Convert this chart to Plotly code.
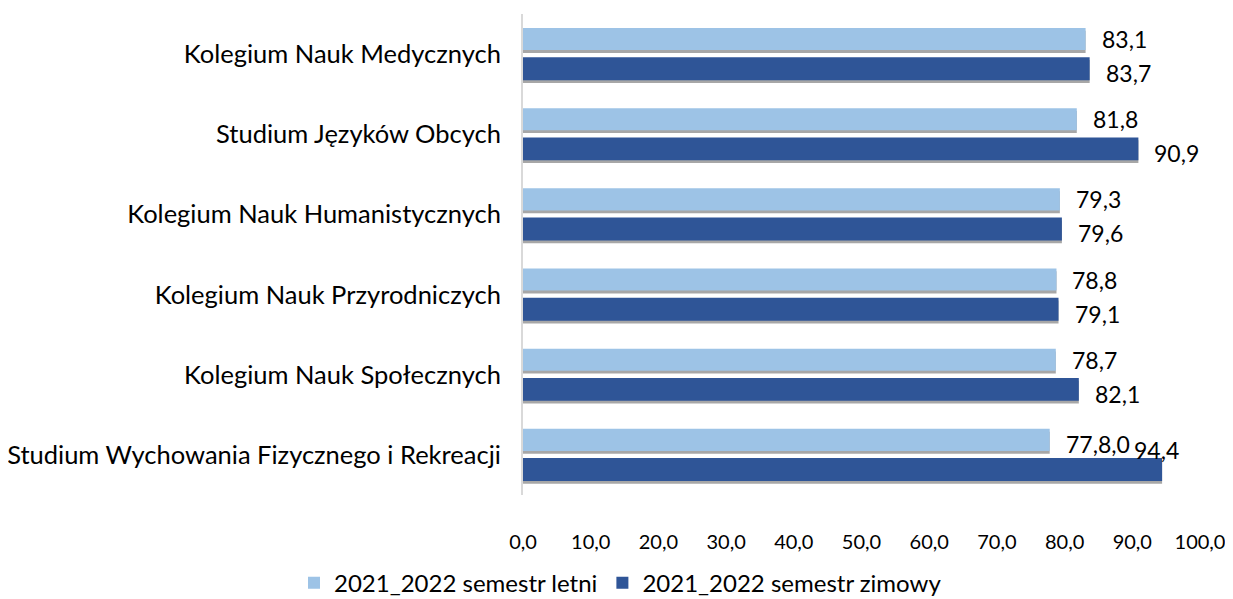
import plotly.graph_objects as go

categories = [
    "Kolegium Nauk Medycznych",
    "Studium Języków Obcych",
    "Kolegium Nauk Humanistycznych",
    "Kolegium Nauk Przyrodniczych",
    "Kolegium Nauk Społecznych",
    "Studium Wychowania Fizycznego i Rekreacji",
]
letni = [83.1, 81.8, 79.3, 78.8, 78.7, 77.8]
zimowy = [83.7, 90.9, 79.6, 79.1, 82.1, 94.4]
letni_labels = ["83,1", "81,8", "79,3", "78,8", "78,7", "77,8,0"]
zimowy_labels = ["83,7", "90,9", "79,6", "79,1", "82,1", "94,4"]
x_ticks = [0, 10, 20, 30, 40, 50, 60, 70, 80, 90, 100]

FONT = "Lato"
C_LIGHT = "#9DC3E6"
C_DARK = "#2F5597"
SHADOW = "rgba(60,60,60,0.45)"

L_OFF, L_W = -0.325, 0.275
Z_OFF, Z_W = 0.04, 0.285
SH = 0.035

fig = go.Figure()
# shadows
fig.add_trace(go.Bar(y=categories, x=letni, orientation="h", offset=L_OFF + SH, width=L_W,
                     marker=dict(color=SHADOW, line=dict(width=0)), showlegend=False,
                     hoverinfo="skip"))
fig.add_trace(go.Bar(y=categories, x=zimowy, orientation="h", offset=Z_OFF + SH, width=Z_W,
                     marker=dict(color=SHADOW, line=dict(width=0)), showlegend=False,
                     hoverinfo="skip"))
# bars
fig.add_trace(go.Bar(y=categories, x=letni, orientation="h", name="2021_2022 semestr letni",
                     offset=L_OFF, width=L_W, marker=dict(color=C_LIGHT, line=dict(width=0))))
fig.add_trace(go.Bar(y=categories, x=zimowy, orientation="h", name="2021_2022 semestr zimowy",
                     offset=Z_OFF, width=Z_W, marker=dict(color=C_DARK, line=dict(width=0))))

LBL_FONT = dict(family=FONT, size=23, color="#000")
annotations = []
last = len(categories) - 1
for i, c in enumerate(categories):
    annotations.append(dict(x=letni[i], y=c, xref="x", yref="y", text=letni_labels[i],
                            showarrow=False, xanchor="left", xshift=14,
                            yshift=(16 - 5) if i == last else (16 - 1),
                            font=LBL_FONT))
    if i == last:
        annotations.append(dict(x=zimowy[i], y=c, xref="x", yref="y", text=zimowy_labels[i],
                                showarrow=False, xanchor="center", xshift=-6,
                                yshift=-14 + 19, font=LBL_FONT))
    else:
        annotations.append(dict(x=zimowy[i], y=c, xref="x", yref="y", text=zimowy_labels[i],
                                showarrow=False, xanchor="left", xshift=14,
                                yshift=-14 - 5, font=LBL_FONT))

# page body has an 8px margin: figure is sized/margined to compensate
fig.update_layout(
    width=1225, height=591,
    barmode="overlay",
    separators=",.",
    paper_bgcolor="white", plot_bgcolor="white",
    margin=dict(l=515, r=33, t=6, b=104),
    font=dict(family=FONT, size=19, color="#000"),
    showlegend=True,
    legend=dict(orientation="h", xref="container", yref="container",
                x=0.500, xanchor="center", y=0.027, yanchor="middle",
                bgcolor="rgba(0,0,0,0)",
                font=dict(family=FONT, size=24, color="#000"), traceorder="normal"),
    annotations=annotations,
)
fig.update_xaxes(range=[0, 100], tickvals=x_ticks, tickformat=".1f", showgrid=False,
                 zeroline=False, showline=False, ticks="", ticklabelstandoff=33,
                 automargin=False,
                 tickfont=dict(family=FONT, size=20, color="#000"))
fig.update_yaxes(autorange="reversed", showgrid=False, showline=True, linecolor="#D9D9D9",
                 linewidth=2, ticks="", ticklabelstandoff=15, automargin=False,
                 tickfont=dict(family=FONT, size=25.5, color="#000"))

fig.write_html("out.html")
